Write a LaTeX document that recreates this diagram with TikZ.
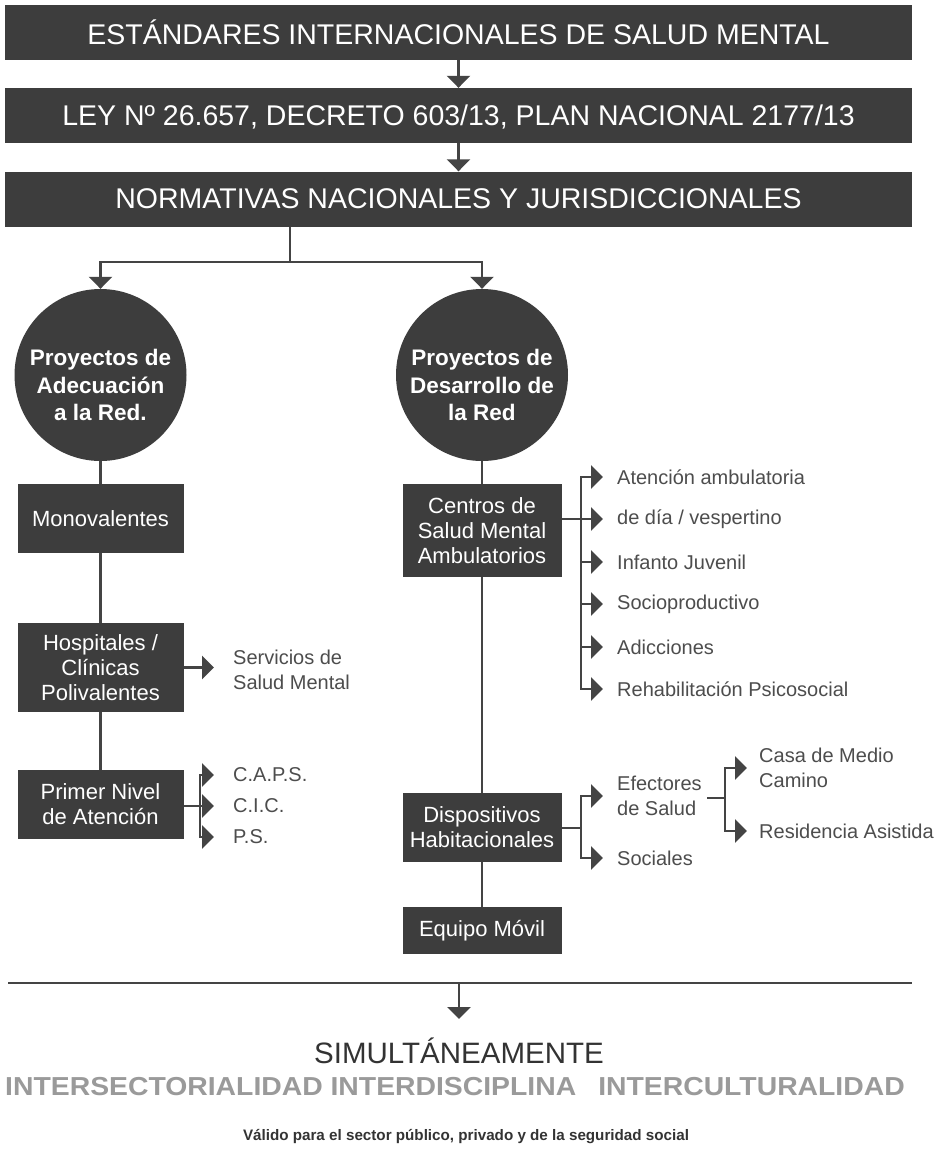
\documentclass[tikz,border=0pt]{standalone}
\usepackage{fontspec}
\setmainfont{Liberation Sans}
\usetikzlibrary{arrows.meta,calc}
\definecolor{dk}{HTML}{3D3D3D}
\definecolor{ln}{HTML}{444444}
\definecolor{tx}{HTML}{4D4D4D}
\definecolor{lg}{HTML}{9A9A9A}
\definecolor{tt}{HTML}{333333}
\begin{document}
\begin{tikzpicture}[x=1pt,y=-1pt,
 line/.style={draw=ln,line width=2.6pt,line join=miter},
 arr/.style={line,-{Triangle[width=23pt,length=12pt]}},
 banner/.style={fill=dk,text=white,minimum width=907pt,minimum height=55pt,inner sep=0pt,text depth=0pt,font=\fontsize{28.5}{30}\selectfont},
 circ/.style={circle,fill=dk,minimum size=172pt,inner sep=0pt},
 ctext/.style={text=white,inner sep=0pt,align=center,font=\fontsize{22.5}{27.5}\selectfont\bfseries},
 box/.style={fill=dk,text=white,inner sep=0pt,align=center,font=\fontsize{22}{25}\selectfont},
 lbl/.style={anchor=west,inner sep=0pt,text=tx,align=left,font=\fontsize{20}{25}\selectfont},
]
\useasboundingbox[fill=white] (0,0) rectangle (937,1152);
% banners
\node[banner] (b1) at (458.5,32.5) {ESTÁNDARES INTERNACIONALES DE SALUD MENTAL};
\node[banner] (b2) at (458.5,115.5) {LEY Nº 26.657, DECRETO 603/13, PLAN NACIONAL 2177/13};
\node[banner] (b3) at (458.5,199) {NORMATIVAS NACIONALES Y JURISDICCIONALES};
\draw[arr] (b1) -- (b2);
\draw[arr] (b2) -- (b3);
% circles
\node[circ] (c1) at (100.5,375) {};
\node[circ] (c2) at (482,375) {};
\node[ctext] (c1t) at (100.5,385) {Proyectos de\\Adecuación\\a la Red.};
\node[ctext] (c2t) at (482,385) {Proyectos de\\Desarrollo de\\la Red};
\coordinate (j) at (290,262);
\draw[line] (b3.south -| j) -- (j);
\draw[arr] (j) -| (c1.north);
\draw[arr] (j) -| (c2.north);
% left column
\node[box,minimum width=166pt,minimum height=69pt] (mono) at (100.5,518.5) {Monovalentes};
\node[box,minimum width=166pt,minimum height=89pt] (hosp) at (100.5,667.5) {Hospitales /\\Clínicas\\Polivalentes};
\node[box,minimum width=166pt,minimum height=69pt] (primer) at (100.5,804.5) {Primer Nivel\\de Atención};
\draw[line] (c1) -- (mono);
\draw[line] (mono) -- (hosp);
\draw[line] (hosp) -- (primer);
\node[lbl] (serv) at (233,670) {Servicios de\\Salud Mental};
\draw[arr,shorten >=19pt] (hosp.east) -- (serv.west |- hosp.east);
\coordinate (pb) at (200,806);
\node[lbl] (caps) at (233,775) {C.A.P.S.};
\node[lbl] (cic) at (233,806) {C.I.C.};
\node[lbl] (ps) at (233,837) {P.S.};
\draw[line] (primer.east |- pb) -- (pb);
\draw[arr,shorten >=19pt] (pb |- ps.west) -- (pb |- caps.west) -- (caps.west);
\draw[arr,shorten >=19pt] (pb |- caps.west) -- (pb |- ps.west) -- (ps.west);
\draw[arr,shorten >=19pt] (pb) -- (cic.west);
% right column
\node[box,minimum width=159pt,minimum height=93pt] (centros) at (482,530.5) {Centros de\\Salud Mental\\Ambulatorios};
\node[box,minimum width=159pt,minimum height=69pt] (disp) at (482,827.5) {Dispositivos\\Habitacionales};
\node[box,minimum width=159pt,minimum height=47pt] (equipo) at (482,930.5) {Equipo Móvil};
\draw[line] (c2) -- (centros);
\draw[line] (centros) -- (disp);
\draw[line] (disp) -- (equipo);
% centros bracket
\coordinate (cb) at (581,519);
\node[lbl] (t1) at (617,477) {Atención ambulatoria};
\node[lbl] (t2) at (617,519) {de día / vespertino};
\node[lbl] (t3) at (617,562) {Infanto Juvenil};
\node[lbl] (t4) at (617,604) {Socioproductivo};
\node[lbl] (t5) at (617,647) {Adicciones};
\node[lbl] (t6) at (617,689) {Rehabilitación Psicosocial};
\draw[line] (centros.east |- cb) -- (cb);
\draw[arr,shorten >=14pt] (cb |- t6.west) -- (cb |- t1.west) -- (t1.west);
\draw[arr,shorten >=14pt] (cb |- t1.west) -- (cb |- t6.west) -- (t6.west);
\draw[arr,shorten >=14pt] (cb) -- (t2.west);
\draw[arr,shorten >=14pt] (cb |- t3.west) -- (t3.west);
\draw[arr,shorten >=14pt] (cb |- t4.west) -- (t4.west);
\draw[arr,shorten >=14pt] (cb |- t5.west) -- (t5.west);
% dispositivos bracket
\coordinate (db) at (581,828);
\node[lbl] (efec) at (617,796) {Efectores\\de Salud};
\node[lbl] (soc) at (617,858) {Sociales};
\draw[line] (disp.east |- db) -- (db);
\draw[arr,shorten >=14pt] (db |- soc.west) -- (db |- efec.west) -- (efec.west);
\draw[arr,shorten >=14pt] (db |- efec.west) -- (db |- soc.west) -- (soc.west);
\coordinate (eb) at (725,798);
\coordinate (ea) at (707,798);
\node[lbl] (casa) at (759,768) {Casa de Medio\\Camino};
\node[lbl] (resi) at (759,831) {Residencia Asistida};
\draw[line] (ea) -- (eb);
\draw[arr,shorten >=12pt] (eb |- resi.west) -- (eb |- casa.west) -- (casa.west);
\draw[arr,shorten >=12pt] (eb |- casa.west) -- (eb |- resi.west) -- (resi.west);
% bottom
\coordinate (hl) at (8,983);
\coordinate (hr) at (912,983);
\coordinate (ha) at (459,983);
\draw[line] (hl) -- (hr);
\node[inner sep=0pt,text depth=0pt,text=tt,font=\fontsize{29.5}{32}\selectfont] (simul) at (459,1051) {SIMULTÁNEAMENTE};
\draw[arr,shorten >=19pt] (ha) -- (ha |- simul.north);
\node[inner sep=0pt,text=lg,font=\fontsize{26}{28}\selectfont\bfseries] (inter) at (455,1087) {\scalebox{1.09}[1]{INTERSECTORIALIDAD INTERDISCIPLINA\hspace{0.5em} INTERCULTURALIDAD}};
\node[inner sep=0pt,text=tt,font=\fontsize{15.2}{17}\selectfont\bfseries] (valido) at (466,1137) {Válido para el sector público, privado y de la seguridad social};
\end{tikzpicture}
\end{document}
